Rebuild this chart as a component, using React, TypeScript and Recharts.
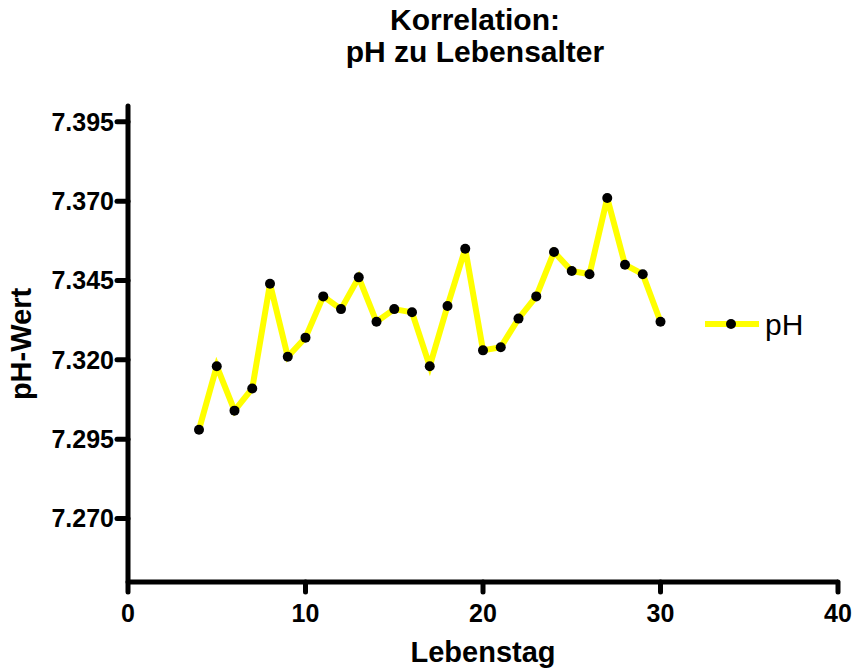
import { LineChart, Line, XAxis, YAxis, Legend, Label } from "recharts"

const days = [4, 5, 6, 7, 8, 9, 10, 11, 12, 13, 14, 15, 16, 17, 18, 19, 20, 21, 22, 23, 24, 25, 26, 27, 28, 29, 30]
const phValues = [
  7.298, 7.318, 7.304, 7.311, 7.344, 7.321, 7.327, 7.340, 7.336, 7.346, 7.332, 7.336, 7.335, 7.318,
  7.337, 7.355, 7.323, 7.324, 7.333, 7.340, 7.354, 7.348, 7.347, 7.371, 7.350, 7.347, 7.332,
]
const xTicks = [0, 10, 20, 30, 40]
const yTicks = [7.27, 7.295, 7.32, 7.345, 7.37, 7.395]
const titleLines = ["Korrelation:", "pH zu Lebensalter"]

const font = "'Liberation Sans', Arial, Helvetica, sans-serif"

const data = days.map((day, i) => ({ day, pH: phValues[i] }))

function PhLegend({ payload }: any) {
  const item = payload && payload[0]
  if (!item) return null
  return (
    <svg width={120} height={40} style={{ display: "block" }}>
      <line x1={5} y1={19} x2={59} y2={19} stroke="#ffff00" strokeWidth={6} />
      <circle cx={31} cy={19} r={5} fill="#000" />
      <text x={65} y={30} fontSize={30} fontFamily={font} fill="#000">
        {item.value}
      </text>
    </svg>
  )
}

function YLabel({ viewBox }: any) {
  const cy = viewBox ? viewBox.y + viewBox.height / 2 : 344
  return (
    <text
      x={0}
      y={0}
      transform={`translate(31, ${cy}) rotate(-90)`}
      textAnchor="middle"
      fontSize={29}
      fontWeight="bold"
      fontFamily={font}
      fill="#000"
    >
      pH-Wert
    </text>
  )
}

export default function App() {
  return (
    <div style={{ position: "absolute", left: 0, top: 0, width: 854, height: 668, background: "#fff" }}>
      <svg width={854} height={100} style={{ position: "absolute", left: 0, top: 0, pointerEvents: "none" }}>
        {titleLines.map((t, i) => (
          <text
            key={t}
            x={475}
            y={30 + i * 32}
            textAnchor="middle"
            fontSize={30}
            fontWeight="bold"
            fontFamily={font}
            fill="#000"
          >
            {t}
          </text>
        ))}
      </svg>
      <LineChart width={854} height={668} data={data} margin={{ top: 106, right: 16, left: 28, bottom: 0 }}>
        <XAxis
          dataKey="day"
          type="number"
          domain={[0, 40]}
          ticks={xTicks}
          interval={0}
          height={86}
          tickSize={10}
          tickMargin={12}
          axisLine={{ stroke: "#000", strokeWidth: 5 }}
          tickLine={{ stroke: "#000", strokeWidth: 5, strokeLinecap: "round" }}
          tick={{ fontSize: 25, fontWeight: "bold", fill: "#000", fontFamily: font }}
        >
          <Label
            value="Lebenstag"
            position="insideBottom"
            offset={6}
            style={{ fontSize: 29, fontWeight: "bold", fill: "#000", fontFamily: font }}
          />
        </XAxis>
        <YAxis
          type="number"
          domain={[7.25, 7.4]}
          ticks={yTicks}
          interval={0}
          allowDataOverflow
          width={100}
          tickSize={11}
          tickMargin={3}
          tickFormatter={(v: number) => v.toFixed(3)}
          axisLine={{ stroke: "#000", strokeWidth: 5, strokeLinecap: "round" }}
          tickLine={{ stroke: "#000", strokeWidth: 5, strokeLinecap: "round" }}
          tick={{ fontSize: 25, fontWeight: "bold", fill: "#000", fontFamily: font }}
        >
          <Label content={<YLabel />} />
        </YAxis>
        <Legend
          layout="vertical"
          align="center"
          verticalAlign="middle"
          content={<PhLegend />}
          wrapperStyle={{ left: 700, top: 305, width: 120, height: 40 }}
        />
        <Line
          type="linear"
          dataKey="pH"
          name="pH"
          stroke="#ffff00"
          strokeWidth={6}
          dot={{ r: 5, fill: "#000", stroke: "none" }}
          activeDot={false}
          isAnimationActive={false}
        />
      </LineChart>
    </div>
  )
}
